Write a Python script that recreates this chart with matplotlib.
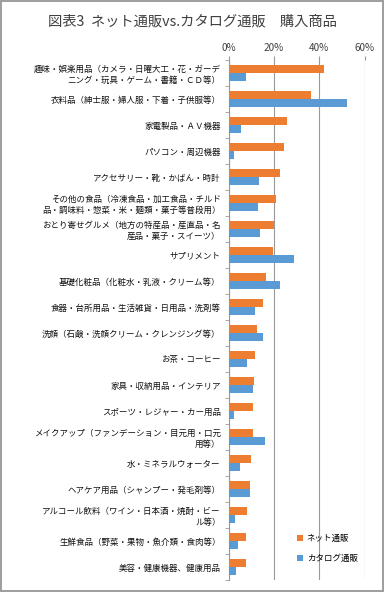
import matplotlib
matplotlib.use('Agg')
import matplotlib.pyplot as plt
from matplotlib.patches import Rectangle
import numpy as np

plt.rcParams['font.family'] = ['Noto Sans CJK JP', 'DejaVu Sans']

categories = [
    '趣味・娯楽用品（カメラ・日曜大工・花・ガーデ\nニング・玩具・ゲーム・書籍・ＣＤ等）',
    '衣料品（紳士服・婦人服・下着・子供服等）',
    '家電製品・ＡＶ機器',
    'パソコン・周辺機器',
    'アクセサリー・靴・かばん・時計',
    'その他の食品（冷凍食品・加工食品・チルド\n品・調味料・惣菜・米・麺類・菓子等普段用）',
    'おとり寄せグルメ（地方の特産品・産直品・名\n産品・菓子・スイーツ）',
    'サプリメント',
    '基礎化粧品（化粧水・乳液・クリーム等）',
    '食器・台所用品・生活雑貨・日用品・洗剤等',
    '洗顔（石鹸・洗顔クリーム・クレンジング等）',
    'お茶・コーヒー',
    '家具・収納用品・インテリア',
    'スポーツ・レジャー・カー用品',
    'メイクアップ（ファンデーション・目元用・口元\n用等）',
    '水・ミネラルウォーター',
    'ヘアケア用品（シャンプー・発毛剤等）',
    'アルコール飲料（ワイン・日本酒・焼酎・ビー\nル等）',
    '生鮮食品（野菜・果物・魚介類・食肉等）',
    '美容・健康機器、健康用品',
]
net_sales = [42.2, 36.1, 25.5, 24.3, 22.5, 20.7, 20.0, 19.4, 16.3, 15.0,
             12.3, 11.7, 11.1, 10.7, 10.7, 9.9, 9.2, 7.9, 7.6, 7.6]
catalog_sales = [7.4, 52.3, 5.2, 2.1, 13.3, 13.0, 13.6, 29.0, 22.5, 11.3,
                 15.0, 8.1, 10.7, 2.1, 16.0, 4.9, 9.2, 2.8, 3.9, 3.1]
series_names = ['ネット通販', 'カタログ通販']
x_ticks = [0, 20, 40, 60]

W, H = 384, 592
fig = plt.figure(figsize=(W / 100, H / 100), dpi=100)
ax = fig.add_axes([229 / W, 1 - 580 / H, (364.5 - 229) / W, 520 / H])

y = np.arange(len(categories))
h = 0.29
ax.barh(y - h / 2, net_sales, height=h, color='#ED7D31', label=series_names[0], zorder=3)
ax.barh(y + h / 2, catalog_sales, height=h, color='#5B9BD5', label=series_names[1], zorder=3)

ax.set_ylim(len(categories) - 0.5, -0.5)
ax.set_xlim(0, 60)
ax.set_xticks(x_ticks)
ax.set_xticklabels([f'{t}%' for t in x_ticks], fontsize=7.2, color='#404040')
ax.xaxis.tick_top()
ax.tick_params(axis='x', length=3, color='#999999', pad=2)
ax.grid(axis='x', color='#999999', linewidth=0.8, zorder=0)

ax.set_yticks(y)
ax.set_yticklabels(categories, fontsize=6.1, color='#111111', linespacing=1.25)
ax.set_yticks(np.arange(len(categories) + 1) - 0.5, minor=True)
ax.tick_params(axis='y', which='major', length=0, pad=6)
ax.tick_params(axis='y', which='minor', length=3, color='#999999')

for s in ['top', 'right', 'bottom']:
    ax.spines[s].set_visible(False)
ax.spines['left'].set_color('#999999')
ax.spines['left'].set_linewidth(0.8)

fig.text(0.5, 1 - 21 / H, '図表3  ネット通販vs.カタログ通販　購入商品',
         ha='center', va='center', fontsize=10.3, color='#404040')

fig.legend(loc='upper left', bbox_to_anchor=(294 / W, 1 - 531 / H), frameon=False,
           fontsize=6.1, handlelength=0.7, handleheight=0.7, handletextpad=0.4,
           labelspacing=1.2, borderaxespad=0)

fig.patches.append(Rectangle((0.002, 0.002), 0.996, 0.996, transform=fig.transFigure,
                             fill=False, edgecolor='#8c8c8c', linewidth=1.2))

fig.savefig('out.png', dpi=100)
